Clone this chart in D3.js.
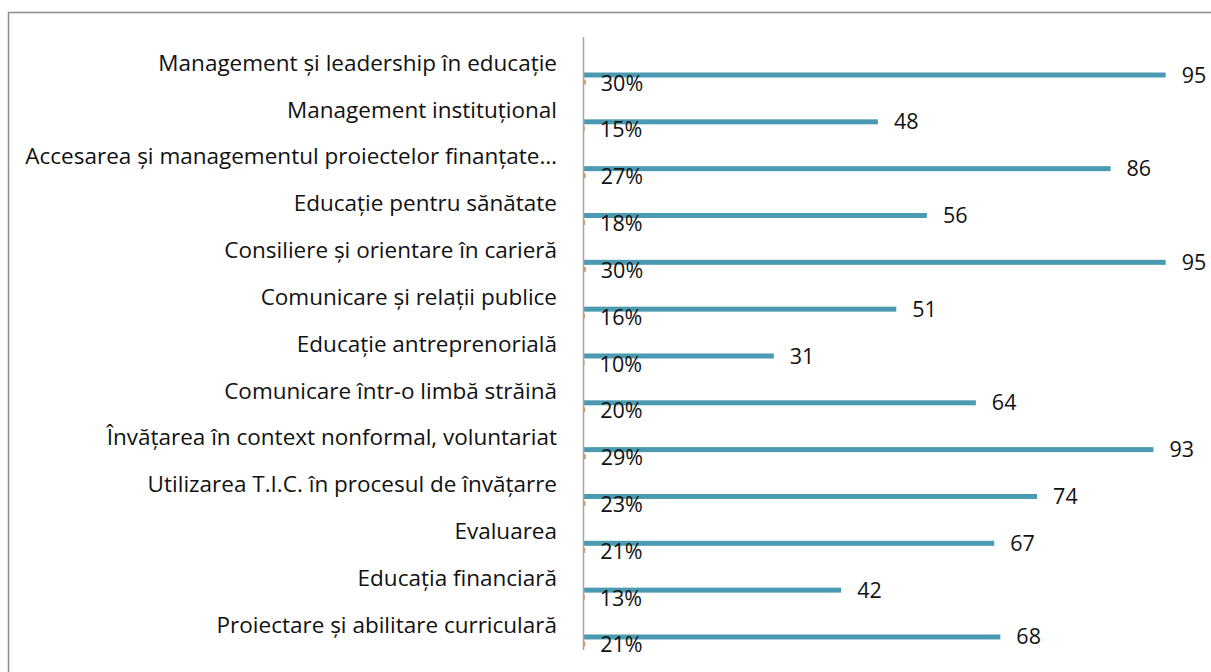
<!DOCTYPE html>
<html>
<head>
<meta charset="utf-8">
<script src="https://cdn.jsdelivr.net/npm/d3@7"></script>
<style>
  body { margin: 0; background: #fff; }
  svg { display: block; }
</style>
</head>
<body>
<div class="chart-wrapper"></div>
<script>
// categories (top to bottom)
const categories = [
  "Management și leadership în educație",
  "Management instituțional",
  "Accesarea și managementul proiectelor finanțate…",
  "Educație pentru sănătate",
  "Consiliere și orientare în carieră",
  "Comunicare și relații publice",
  "Educație antreprenorială",
  "Comunicare într-o limbă străină",
  "Învățarea în context nonformal, voluntariat",
  "Utilizarea T.I.C. în procesul de învățarre",
  "Evaluarea",
  "Educația financiară",
  "Proiectare și abilitare curriculară"
]

// number of answers
const counts = [95, 48, 86, 56, 95, 51, 31, 64, 93, 74, 67, 42, 68]

// share of answers
const shares = [0.30, 0.15, 0.27, 0.18, 0.30, 0.16, 0.10, 0.20, 0.29, 0.23, 0.21, 0.13, 0.21]

const width = 1211
const height = 672
const fontFamily = "'Open Sans', 'Noto Sans', sans-serif"

const rows = categories.map((name, i) => ({ name, count: counts[i], share: shares[i] }))

const svg = d3.select('.chart-wrapper').append("svg")
  .attr("width", width)
  .attr("height", height)
  .attr("font-family", fontFamily)

// outer frame
svg.append("rect")
  .attr("x", 8.5)
  .attr("y", 12.5)
  .attr("width", width + 10)
  .attr("height", height + 10)
  .attr("fill", "none")
  .attr("stroke", "#8c8c8c")
  .attr("stroke-width", 1.5)

const x = d3.scaleLinear()
  .domain([0, 100])
  .range([584, 1196.3])

const y = d3.scaleBand()
  .domain(categories)
  .range([37, 37 + 46.83 * categories.length])

const barH = 5

// category labels
svg.append("g")
  .attr("font-size", 22.5)
  .attr("fill", "#111")
  .attr("text-anchor", "end")
  .selectAll("text")
  .data(rows)
  .join("text")
    .attr("x", 557)
    .attr("y", d => y(d.name) + y.bandwidth() / 2 + 2.5)
    .attr("dy", "0.35em")
    .text(d => d.name)

// count bars
svg.append("g")
  .attr("fill", "#4a9bb1")
  .selectAll("rect")
  .data(rows)
  .join("rect")
    .attr("x", x(0))
    .attr("y", d => y(d.name) + 35.5)
    .attr("width", d => x(d.count) - x(0))
    .attr("height", barH)

// share bars (tiny, same scale)
svg.append("g")
  .attr("fill", "#e0975a")
  .selectAll("rect")
  .data(rows)
  .join("rect")
    .attr("x", x(0))
    .attr("y", d => y(d.name) + 42.5)
    .attr("width", d => x(d.share) - x(0))
    .attr("height", barH)

// axis line
svg.append("line")
  .attr("x1", 583.5)
  .attr("x2", 583.5)
  .attr("y1", 37)
  .attr("y2", 650)
  .attr("stroke", "#a6a6a6")
  .attr("stroke-width", 1.5)

// count labels
svg.append("g")
  .attr("font-size", 21.5)
  .attr("fill", "#111")
  .selectAll("text")
  .data(rows)
  .join("text")
    .attr("x", d => x(d.count) + 16)
    .attr("y", d => y(d.name) + 38)
    .attr("dy", "0.35em")
    .text(d => d.count)

const pct = d3.format(".0%")

// share labels
svg.append("g")
  .attr("font-size", 21.5)
  .attr("fill", "#111")
  .selectAll("text")
  .data(rows)
  .join("text")
    .attr("x", d => x(d.share) + 15)
    .attr("y", d => y(d.name) + 46)
    .attr("dy", "0.35em")
    .text(d => pct(d.share))
</script>
</body>
</html>
